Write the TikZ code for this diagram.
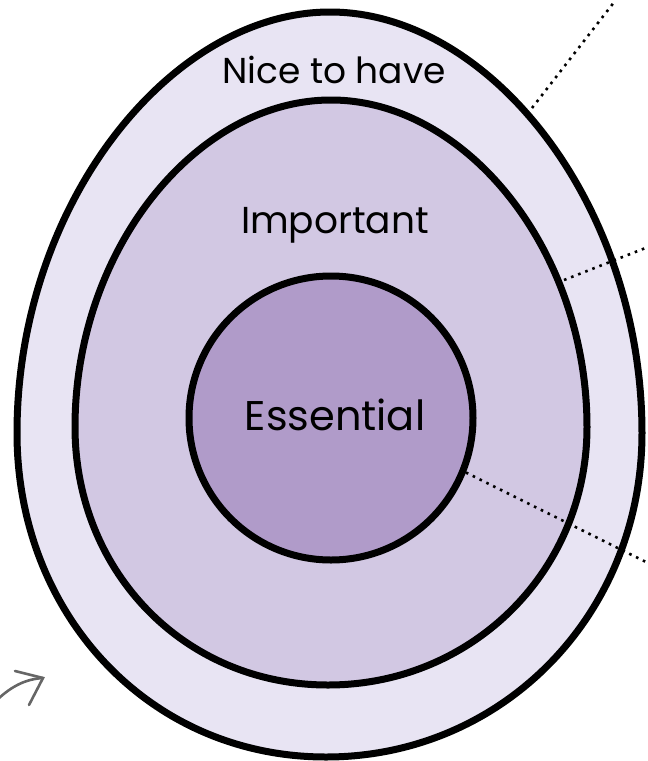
\documentclass[tikz,border=0pt]{standalone}
\usepackage{fontspec}
\setmainfont{Poppins}
\definecolor{outerfill}{HTML}{E8E4F3}
\definecolor{innerfill}{HTML}{D2C8E3}
\definecolor{corefill}{HTML}{B09BC9}
\definecolor{arrowgray}{HTML}{666666}
\begin{document}
\begin{tikzpicture}[x=1pt,y=-1pt,
  ring/.style={draw=black,line width=7pt},
  label/.style={text=black,inner sep=0pt,anchor=base},
  leader/.style={draw=black,line width=2.6pt,dash pattern=on 2.6pt off 5pt},
  sketch/.style={draw=arrowgray,line width=2.6pt,line cap=round}]
\useasboundingbox (0,0) rectangle (648,761);
% outer egg
\path[ring,fill=outerfill] (330,12) .. controls (490,12) and (642,205) .. (642,433)
  .. controls (642,614) and (503,757) .. (326,757)
  .. controls (149,757) and (17,614) .. (17,433)
  .. controls (17,205) and (170,12) .. (330,12) -- cycle;
% inner egg
\path[ring,fill=innerfill] (331,100) .. controls (466,100) and (587,250) .. (587,427)
  .. controls (587,571) and (472,685) .. (328,685)
  .. controls (184,685) and (75,571) .. (75,427)
  .. controls (75,250) and (196,100) .. (331,100) -- cycle;
% core
\node[circle,ring,fill=corefill,minimum size=284pt,inner sep=0pt] (core) at (331,418) {};
% labels
\node[label,font=\fontsize{36}{36}\selectfont] (nice) at (334,83) {Nice to have};
\node[label,font=\fontsize{37.5}{37.5}\selectfont] (imp) at (335,233) {Important};
\node[label,font=\fontsize{41.5}{41.5}\selectfont] (ess) at (335,430) {Essential};
% leader lines
\coordinate (l1a) at (532,108); \coordinate (l1b) at (615,1);
\coordinate (l2a) at (564,280); \coordinate (l2b) at (648,247);
\coordinate (l3b) at (648,563);
\draw[leader] (l1a) -- (l1b);
\draw[leader] (l2a) -- (l2b);
\draw[leader] (core.-22) -- (l3b);
% sketch arrow
\coordinate (a0) at (-2,699); \coordinate (a1) at (43,678);
\coordinate (h1) at (15,671); \coordinate (h2) at (29,705);
\draw[sketch] (a0) .. controls (12,686) and (26,679) .. (a1);
\draw[sketch] (h1) -- (a1) -- (h2);
\end{tikzpicture}
\end{document}
